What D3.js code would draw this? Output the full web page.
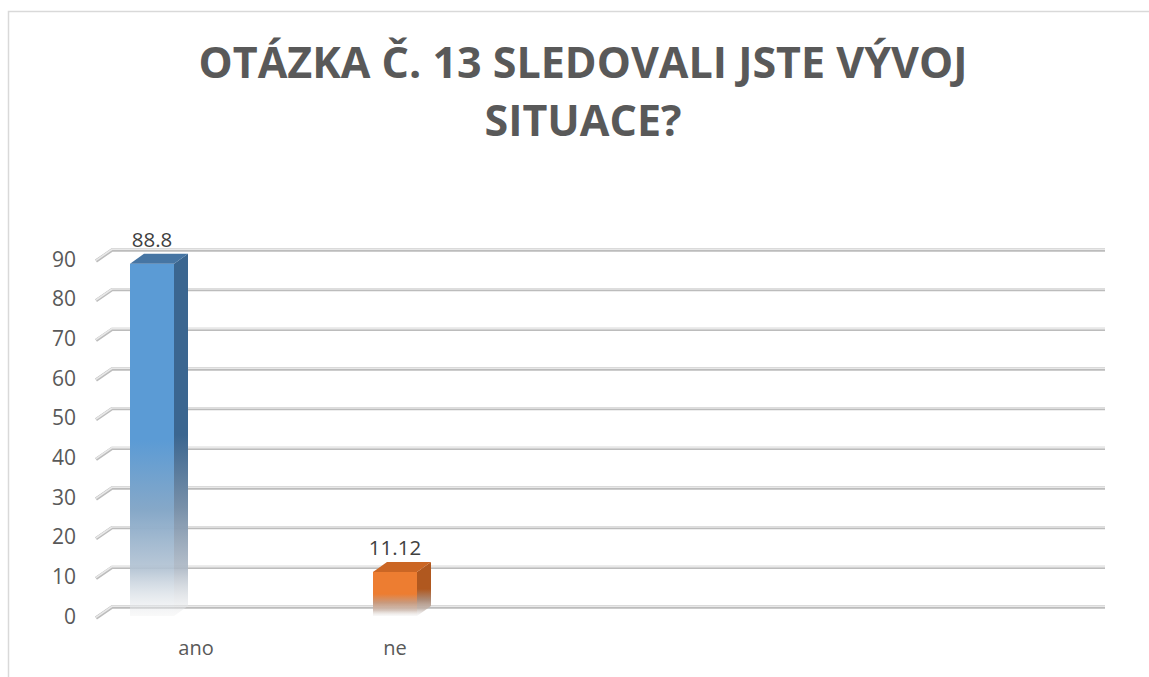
<!DOCTYPE html>
<html>
<head>
<meta charset="utf-8">
<script src="https://cdn.jsdelivr.net/npm/d3@7"></script>
<style>
  body { margin: 0; background: #fff; }
  text { font-family: "Open Sans", sans-serif; fill: #595959; }
</style>
</head>
<body>
<div id="chart"></div>
<script>
const width = 1149;
const height = 677;

const titleLines = ["OTÁZKA Č. 13 SLEDOVALI JSTE VÝVOJ", "SITUACE?"];
const categories = ["ano", "ne"];
const values = [88.8, 11.12];
const yTicks = [0, 10, 20, 30, 40, 50, 60, 70, 80, 90];

const frontColors = ["#5B9BD5", "#ED7D31"];
const sideColors = ["#3B6690", "#B0581F"];
const topColors = ["#4675A3", "#CB6624"];

// 3d depth of the floor / bars
const depthX = 14, depthY = -10;

const svg = d3.select("#chart")
  .append("svg")
    .attr("width", width)
    .attr("height", height);

// chart frame (cut off on right and bottom)
svg.append("rect")
  .attr("x", 8.5).attr("y", 11.5)
  .attr("width", 1200).attr("height", 700)
  .attr("fill", "none")
  .attr("stroke", "#d9d9d9")
  .attr("stroke-width", 1.5);

// title
svg.append("text")
  .attr("text-anchor", "middle")
  .style("font-size", "43px")
  .style("font-weight", "bold")
  .selectAll("tspan")
  .data(titleLines)
  .enter()
  .append("tspan")
    .attr("x", 583)
    .attr("y", (d, i) => 78 + i * 58)
    .text(d => d);

const y = d3.scaleLinear()
  .domain([0, 90])
  .range([616, 259]);

const x = d3.scaleBand()
  .domain(categories)
  .range([96, 582]);

// labels sit on the floor edge, which is drawn in perspective
const xLabel = d3.scalePoint()
  .domain(categories)
  .range([196, 395]);

// gridlines: short diagonal + back wall line
const grid = svg.append("g");
yTicks.forEach(function(t) {
  const yy = y(t);
  const pts = [[96, yy + 2], [112, yy - 9], [1105, yy - 9]];
  grid.append("path")
    .attr("d", d3.line()(pts))
    .attr("fill", "none")
    .attr("stroke", "#bcbcbc")
    .attr("stroke-width", 3.4);
  grid.append("path")
    .attr("d", d3.line()(pts.map(p => [p[0], p[1] - 0.7])))
    .attr("fill", "none")
    .attr("stroke", "#e8e8e8")
    .attr("stroke-width", 1.6);
});

// y axis tick labels
svg.append("g")
  .selectAll("text")
  .data(yTicks)
  .enter()
  .append("text")
    .attr("x", 76)
    .attr("y", d => y(d))
    .attr("dy", "0.36em")
    .attr("text-anchor", "end")
    .style("font-size", "21px")
    .text(d => d);

// gradients that fade the lower part of each bar
const defs = svg.append("defs");
function fade(id, color) {
  const g = defs.append("linearGradient")
    .attr("id", id)
    .attr("x1", 0).attr("y1", 0).attr("x2", 0).attr("y2", 1);
  g.append("stop").attr("offset", "0%").attr("stop-color", color);
  g.append("stop").attr("offset", "50%").attr("stop-color", color);
  g.append("stop").attr("offset", "70%").attr("stop-color", d3.interpolateRgb(color, "#a9b2bd")(0.55));
  g.append("stop").attr("offset", "87%").attr("stop-color", d3.interpolateRgb(color, "#c9cdd2")(0.8)).attr("stop-opacity", 0.9);
  g.append("stop").attr("offset", "100%").attr("stop-color", "#f0f0f0").attr("stop-opacity", 0.4);
}
categories.forEach(function(c, i) {
  fade("front" + i, frontColors[i]);
  fade("side" + i, sideColors[i]);
});

const barOffset = 34, barWidth = 44;
const bars = svg.append("g")
  .selectAll("g")
  .data(values)
  .enter()
  .append("g");

bars.append("rect")
  .attr("x", (d, i) => x(categories[i]) + barOffset)
  .attr("y", d => y(d))
  .attr("width", barWidth)
  .attr("height", d => y(0) - y(d))
  .attr("fill", (d, i) => "url(#front" + i + ")");

bars.append("path")
  .attr("d", function(d, i) {
    const x1 = x(categories[i]) + barOffset + barWidth;
    return d3.line()([[x1, y(d)], [x1 + depthX, y(d) + depthY], [x1 + depthX, y(0) + depthY], [x1, y(0)]]) + "Z";
  })
  .attr("fill", (d, i) => "url(#side" + i + ")");

bars.append("path")
  .attr("d", function(d, i) {
    const x0 = x(categories[i]) + barOffset;
    const x1 = x0 + barWidth;
    const yt = y(d);
    return d3.line()([[x0, yt], [x1, yt], [x1 + depthX, yt + depthY], [x0 + depthX, yt + depthY]]) + "Z";
  })
  .attr("fill", (d, i) => topColors[i]);

// data labels
bars.append("text")
  .attr("x", (d, i) => x(categories[i]) + barOffset + barWidth / 2)
  .attr("y", d => y(d) - 17)
  .attr("text-anchor", "middle")
  .style("font-size", "20.5px")
  .style("fill", "#404040")
  .text(d => d);

// category labels
svg.append("g")
  .selectAll("text")
  .data(categories)
  .enter()
  .append("text")
    .attr("x", d => xLabel(d))
    .attr("y", 655)
    .attr("text-anchor", "middle")
    .style("font-size", "20px")
    .text(d => d);
</script>
</body>
</html>
